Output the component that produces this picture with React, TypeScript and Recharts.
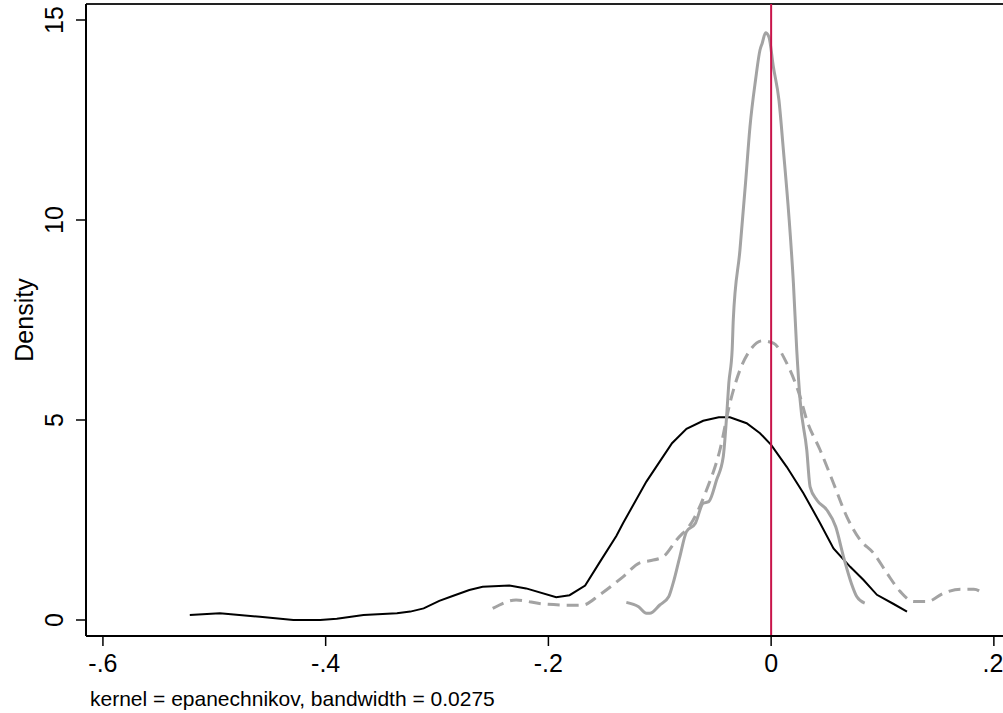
import React from 'react';
import { LineChart, Line, XAxis, YAxis, ReferenceLine } from 'recharts';

const xTicks = [-0.6, -0.4, -0.2, 0, 0.2];
const xTickLabels = ['-.6', '-.4', '-.2', '0', '.2'];
const yTicks = [0, 5, 10, 15];
const yTickLabels = ['0', '5', '10', '15'];

const blackX = [-0.522, -0.495, -0.459, -0.429, -0.405, -0.39, -0.366, -0.336, -0.324, -0.312, -0.298, -0.286, -0.271, -0.259, -0.235, -0.22, -0.193, -0.181, -0.167, -0.154, -0.139, -0.133, -0.112, -0.089, -0.076, -0.061, -0.047, -0.037, -0.022, -0.01, 0.0, 0.014, 0.029, 0.044, 0.056, 0.071, 0.083, 0.095, 0.11, 0.122];
const blackY = [0.125, 0.17, 0.08, 0.0, 0.0, 0.03, 0.125, 0.17, 0.21, 0.29, 0.48, 0.6, 0.75, 0.83, 0.86, 0.79, 0.57, 0.62, 0.86, 1.44, 2.1, 2.42, 3.46, 4.42, 4.78, 4.98, 5.07, 5.07, 4.92, 4.67, 4.38, 3.83, 3.17, 2.42, 1.79, 1.33, 1.0, 0.63, 0.4, 0.21];

const dashX = [-0.25, -0.229, -0.205, -0.178, -0.169, -0.154, -0.133, -0.118, -0.109, -0.097, -0.085, -0.07, -0.058, -0.046, -0.037, -0.028, -0.02, -0.008, 0.002, 0.014, 0.026, 0.032, 0.044, 0.056, 0.068, 0.08, 0.092, 0.104, 0.116, 0.128, 0.14, 0.155, 0.17, 0.182, 0.191];
const dashY = [0.29, 0.5, 0.4, 0.37, 0.375, 0.63, 1.08, 1.43, 1.48, 1.58, 2.0, 2.5, 3.25, 4.25, 5.42, 6.25, 6.7, 6.98, 6.92, 6.42, 5.58, 5.0, 4.25, 3.42, 2.58, 2.0, 1.67, 1.17, 0.71, 0.46, 0.46, 0.67, 0.77, 0.77, 0.65];

const grayX = [-0.13, -0.119, -0.112, -0.109, -0.1, -0.092, -0.088, -0.082, -0.076, -0.068, -0.061, -0.056, -0.049, -0.043, -0.04, -0.038, -0.035, -0.034, -0.028, -0.023, -0.019, -0.014, -0.01, -0.008, -0.005, -0.002, 0.002, 0.007, 0.011, 0.016, 0.02, 0.023, 0.026, 0.032, 0.035, 0.041, 0.05, 0.058, 0.065, 0.072, 0.077, 0.084];
const grayY = [0.44, 0.33, 0.17, 0.17, 0.375, 0.58, 0.92, 1.58, 2.21, 2.42, 2.92, 2.96, 3.5, 4.08, 5.08, 5.92, 6.75, 7.5, 9.25, 10.92, 12.33, 13.5, 14.25, 14.42, 14.68, 14.58, 13.83, 13.0, 11.75, 10.08, 8.42, 6.75, 5.5, 4.25, 3.33, 3.0, 2.75, 2.33, 1.58, 0.92, 0.58, 0.42];

const zip = (xs: number[], ys: number[]) => xs.map((x, i) => ({ x, d: ys[i] }));
const blackData = zip(blackX, blackY);
const dashData = zip(dashX, dashY);
const grayData = zip(grayX, grayY);

const FONT = '"Liberation Sans", Arial, Helvetica, sans-serif';

const XTick = (props: any) => {
  const { x, y, payload } = props;
  const i = xTicks.indexOf(payload.value);
  return (
    <text x={x} y={y + 24} textAnchor="middle" fontSize={25} fontFamily={FONT} fill="#000">
      {i >= 0 ? xTickLabels[i] : payload.value}
    </text>
  );
};

const YTick = (props: any) => {
  const { x, y, payload } = props;
  const i = yTicks.indexOf(payload.value);
  return (
    <g transform={`translate(${x - 11}, ${y}) rotate(-90)`}>
      <text x={0} y={0} textAnchor="middle" fontSize={25} fontFamily={FONT} fill="#000">
        {i >= 0 ? yTickLabels[i] : payload.value}
      </text>
    </g>
  );
};

export default function App() {
  return (
    <div style={{ position: 'absolute', left: 0, top: 0, width: 1003, height: 713, background: '#fff', overflow: 'hidden' }}>
      <LineChart width={1003} height={713} margin={{ top: 4, right: 0, bottom: 0, left: 0 }}>
        <XAxis
          type="number"
          dataKey="x"
          domain={[-0.6152, 0.2082]}
          ticks={xTicks}
          allowDataOverflow
          height={77}
          tickSize={10}
          tick={<XTick />}
          axisLine={{ stroke: '#000', strokeWidth: 2 }}
          tickLine={{ stroke: '#000', strokeWidth: 1.5 }}
        />
        <YAxis
          type="number"
          dataKey="d"
          domain={[-0.4, 15.4]}
          ticks={yTicks}
          allowDataOverflow
          width={86}
          tickSize={10}
          tick={<YTick />}
          axisLine={{ stroke: '#000', strokeWidth: 2 }}
          tickLine={{ stroke: '#000', strokeWidth: 1.5 }}
        />
        <ReferenceLine y={15.4} stroke="#222" strokeWidth={2} />
        <Line data={blackData} dataKey="d" type="linear" stroke="#000" strokeWidth={2} dot={false} isAnimationActive={false} />
        <Line data={dashData} dataKey="d" type="monotone" stroke="#a3a3a3" strokeWidth={3} strokeDasharray="12 7" dot={false} isAnimationActive={false} />
        <Line data={grayData} dataKey="d" type="monotone" stroke="#a3a3a3" strokeWidth={3} dot={false} isAnimationActive={false} />
        <ReferenceLine x={0} stroke="#c8144a" strokeWidth={2} />
      </LineChart>
      <svg width={1003} height={713} style={{ position: 'absolute', left: 0, top: 0, pointerEvents: 'none' }}>
        <g transform="translate(33, 320) rotate(-90)">
          <text x={0} y={0} textAnchor="middle" fontSize={25} fontFamily={FONT} fill="#000">Density</text>
        </g>
        <text x={90} y={706} fontSize={21} fontFamily={FONT} fill="#000">kernel = epanechnikov, bandwidth = 0.0275</text>
      </svg>
    </div>
  );
}
